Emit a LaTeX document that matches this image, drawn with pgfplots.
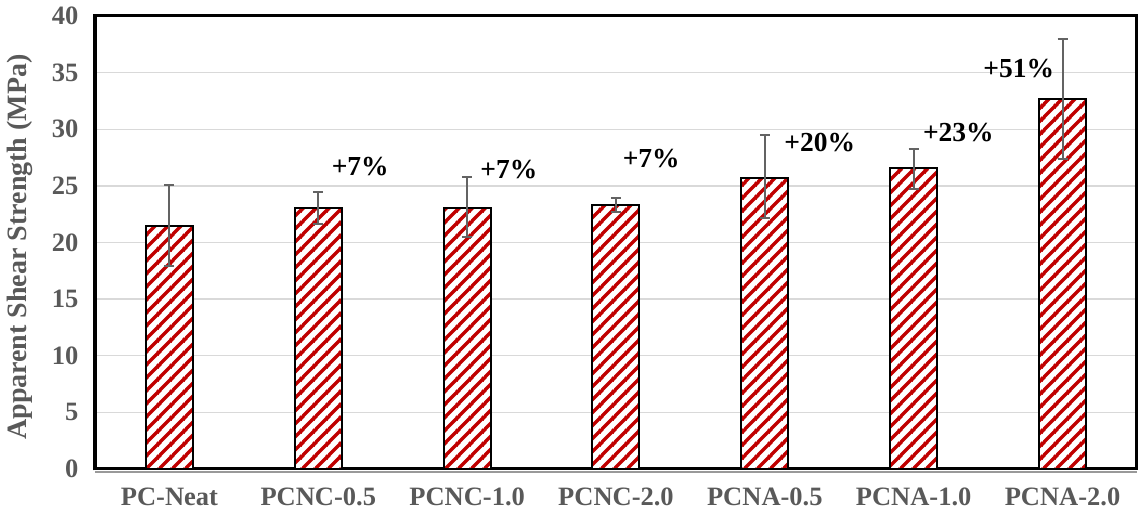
\documentclass[border=0pt]{standalone}
\usepackage{pgfplots}
\usepackage{pgfplotstable}
\pgfplotsset{compat=1.18}
\usepackage{fontspec}
\setmainfont{Liberation Serif}
\usetikzlibrary{patterns}
\definecolor{stripered}{HTML}{C00000}
\definecolor{txtgray}{HTML}{595959}
\definecolor{errgray}{HTML}{636363}
\definecolor{gridgray}{HTML}{D9D9D9}

\pgfdeclarepatterninherentlycolored{redstripes}
{\pgfpointorigin}{\pgfpoint{13.3pt}{13.3pt}}{\pgfpoint{13.3pt}{13.3pt}}
{
 \pgfsetcolor{stripered}
 \pgfsetlinewidth{3.6pt}
 \pgfpathmoveto{\pgfpoint{-2pt}{-2pt}}\pgfpathlineto{\pgfpoint{15.3pt}{15.3pt}}
 \pgfpathmoveto{\pgfpoint{-4pt}{9.3pt}}\pgfpathlineto{\pgfpoint{4pt}{17.3pt}}
 \pgfpathmoveto{\pgfpoint{9.3pt}{-4pt}}\pgfpathlineto{\pgfpoint{17.3pt}{4pt}}
 \pgfusepath{stroke}
}

\pgfplotstableread{
x y ep em
0 21.50 3.57 3.54
1 23.07 1.38 1.47
2 23.07 2.73 2.57
3 23.30 0.66 0.60
4 25.72 3.78 3.60
5 26.55 1.68 1.80
6 32.65 5.35 5.25
}\bardata

\pgfplotstableread{
x y label
1.282 26.7 7
2.280 26.4 7
3.237 27.4 7
4.369 28.8 20
5.300 29.7 23
5.706 35.4 51
}\labeldata

\begin{document}
\begin{tikzpicture}
\begin{axis}[
  scale only axis, width=1042pt, height=453pt,
  xmin=-0.5, xmax=6.5, ymin=0, ymax=40,
  xtick={0,1,2,3,4,5,6},
  xticklabels={PC-Neat,PCNC-0.5,PCNC-1.0,PCNC-2.0,PCNA-0.5,PCNA-1.0,PCNA-2.0},
  ytick={0,5,...,40},
  major tick length=0pt,
  ymajorgrids, grid style={gridgray, line width=1.3pt},
  axis line style={black, line width=3pt},
  /pgf/number format/assume math mode=true,
  tick label style={font=\fontsize{26.5}{30}\selectfont\bfseries, text=txtgray},
  yticklabel style={xshift=-13pt},
  xticklabel style={yshift=-15pt},
  ylabel={Apparent Shear Strength (MPa)},
  ylabel style={font=\fontsize{28}{32}\selectfont\bfseries, text=txtgray,
                at={(axis description cs:-0.072,0.49)}, anchor=center},
  clip=false,
  after end axis/.code={
    \draw[line width=2pt, color=gray!80] ([yshift=-3pt]rel axis cs:0,0) -- ([yshift=-3pt]rel axis cs:1,0);
    \draw[line width=4.5pt, color=black] ([yshift=-1.5pt]rel axis cs:0,0) -- ([yshift=1.5pt]rel axis cs:0,1);
  },
]
\addplot[ybar, bar width=47pt, draw=black, line width=2pt,
  preaction={fill=white}, pattern=redstripes]
  table[x=x, y=y] {\bardata};
\addplot[draw=none, mark=none,
  error bars/.cd, y dir=both, y explicit,
  error bar style={draw=errgray, line width=2pt},
  error mark options={rotate=90, draw=errgray, mark size=5pt, line width=2pt}]
  table[x=x, y=y, y error plus=ep, y error minus=em] {\bardata};
\addplot[draw=none, mark=none,
  nodes near coords={+\pgfplotspointmeta\%},
  nodes near coords align={center},
  point meta=explicit symbolic,
  every node near coord/.style={anchor=center, inner sep=0pt,
     font=\fontsize{27.5}{30}\selectfont\bfseries, text=black}]
  table[x=x, y=y, meta=label] {\labeldata};
\end{axis}
\pgfresetboundingbox
\path[use as bounding box] (-95pt,-52pt) rectangle (1045pt,469pt);
\end{tikzpicture}
\end{document}
